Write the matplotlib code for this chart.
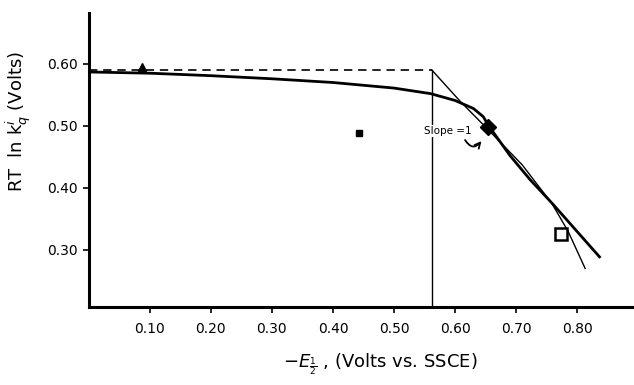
import numpy as np
from matplotlib import pyplot as plt

# values
thick_x = [0.0, 0.10, 0.20, 0.30, 0.40, 0.50, 0.56, 0.60, 0.63, 0.646, 0.655, 0.69, 0.723, 0.759, 0.838]
thick_y = [0.587, 0.585, 0.581, 0.576, 0.570, 0.561, 0.552, 0.541, 0.528, 0.515, 0.500, 0.452, 0.413, 0.375, 0.287]

thin_x = [0.562, 0.608, 0.654, 0.71, 0.759, 0.785, 0.813]
thin_y = [0.590, 0.540, 0.494, 0.437, 0.374, 0.330, 0.270]

dash_x = [0.0, 0.562]
dash_y = [0.590, 0.590]

vline_x = 0.562
vline_top = 0.590

tri_pt = (0.087, 0.595)
sq_small = (0.443, 0.489)
diamond = (0.654, 0.498)
sq_open = (0.774, 0.326)

xticks = [0.10, 0.20, 0.30, 0.40, 0.50, 0.60, 0.70, 0.80]
xticklabels = ["0.10", "0.20", "0.30", "0.40", "0.50", "0.60", "0.70", "0.80"]
yticks = [0.30, 0.40, 0.50, 0.60]
yticklabels = ["0.30", "0.40", "0.50", "0.60"]

plt.rcParams['font.family'] = ['DejaVu Sans']
plt.rcParams['mathtext.fontset'] = 'dejavusans'

fig = plt.figure(figsize=(6.34, 3.85), dpi=100)
ax = fig.add_axes([0.140, 0.203, 0.860, 0.763])

ax.plot(thick_x, thick_y, color='black', lw=2.0, solid_capstyle='butt')
ax.plot(thin_x, thin_y, color='black', lw=1.0)
ax.plot(dash_x, dash_y, color='black', lw=1.2, dashes=(5, 3.5))
ax.plot([vline_x, vline_x], [0.0, vline_top], color='black', lw=1.0)

ax.plot(*tri_pt, marker='^', color='black', ms=6, ls='none')
ax.plot(*sq_small, marker='s', color='black', ms=4, ls='none')
ax.plot(*diamond, marker='D', color='black', ms=8, ls='none')
ax.plot(*sq_open, marker='s', mfc='white', mec='black', mew=1.8, ms=8, ls='none')

ax.text(0.588, 0.492, "Slope =1", fontsize=7.5, ha='center', va='center',
        bbox=dict(facecolor='white', edgecolor='none', pad=0.5))
ax.annotate("", xy=(0.646, 0.479), xytext=(0.614, 0.481),
            arrowprops=dict(arrowstyle='->', color='black', lw=1.3,
                            connectionstyle='arc3,rad=0.8'))

ax.set_xlim(0, 0.893)
ax.set_ylim(0.208, 0.682)
ax.set_xticks(xticks)
ax.set_xticklabels(xticklabels)
ax.set_yticks(yticks)
ax.set_yticklabels(yticklabels)
ax.tick_params(direction='out', length=4, width=1.2, labelsize=10)
ax.tick_params(axis='y', pad=4)
ax.tick_params(axis='x', pad=7)

for s in ['top', 'right']:
    ax.spines[s].set_visible(False)
for s in ['left', 'bottom']:
    ax.spines[s].set_linewidth(2.2)

ax.set_xlabel(r"$-E_{\frac{1}{2}}$ , (Volts vs. SSCE)", fontsize=13)
ax.xaxis.set_label_coords(0.535, -0.15)
ax.set_ylabel(r"RT  ln k$_q^i$ (Volts)", fontsize=13)
ax.yaxis.set_label_coords(-0.102, 0.63)

fig.savefig("out.png", dpi=100)
